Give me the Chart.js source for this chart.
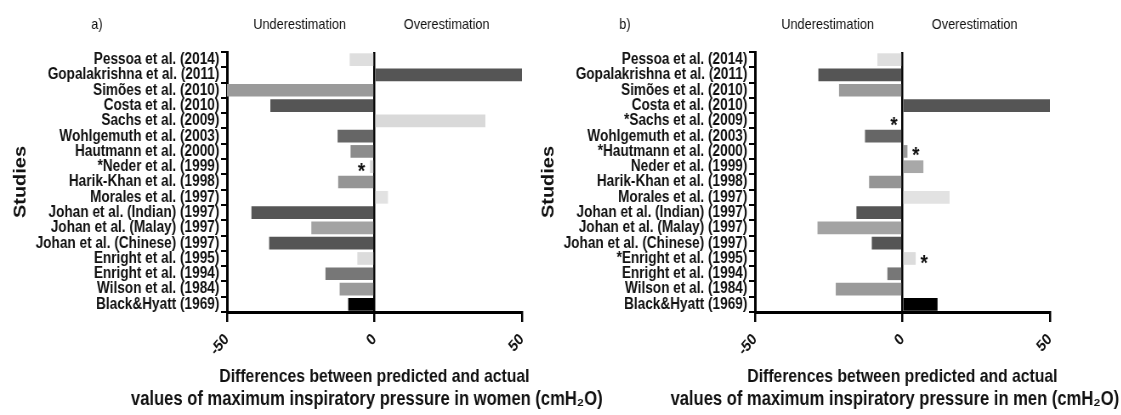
<!DOCTYPE html>
<html>
<head>
<meta charset="utf-8">
<script src="https://cdn.jsdelivr.net/npm/chart.js@4.4.1/dist/chart.umd.min.js"></script>
<style>
  body { margin: 0; background: #fff; }
  #wrap { position: relative; width: 1121px; height: 415px; overflow: hidden; }
  /* the source figure is squeezed sideways, so each panel is drawn wide and squeezed */
  canvas { position: absolute; top: 0; transform: scaleX(0.85); transform-origin: 0 0; }
  #women { left: 0; }
  #men { left: 528px; }
</style>
</head>
<body>
<div id="wrap">
  <canvas id="women" width="720" height="415"></canvas>
  <canvas id="men" width="720" height="415"></canvas>
</div>
<script>
const FONT = "'Liberation Sans', Arial, sans-serif";

const womenStudies = ['Pessoa et al. (2014)', 'Gopalakrishna et al. (2011)', 'Simões et al. (2010)', 'Costa et al. (2010)',
  'Sachs et al. (2009)', 'Wohlgemuth et al. (2003)', 'Hautmann et al. (2000)', '*Neder et al. (1999)',
  'Harik-Khan et al. (1998)', 'Morales et al. (1997)', 'Johan et al. (Indian) (1997)', 'Johan et al. (Malay) (1997)',
  'Johan et al. (Chinese) (1997)', 'Enright et al. (1995)', 'Enright et al. (1994)', 'Wilson et al. (1984)', 'Black&Hyatt (1969)'];
const menStudies = ['Pessoa et al. (2014)', 'Gopalakrishna et al. (2011)', 'Simões et al. (2010)', 'Costa et al. (2010)',
  '*Sachs et al. (2009)', 'Wohlgemuth et al. (2003)', '*Hautmann et al. (2000)', 'Neder et al. (1999)',
  'Harik-Khan et al. (1998)', 'Morales et al. (1997)', 'Johan et al. (Indian) (1997)', 'Johan et al. (Malay) (1997)',
  'Johan et al. (Chinese) (1997)', '*Enright et al. (1995)', 'Enright et al. (1994)', 'Wilson et al. (1984)', 'Black&Hyatt (1969)'];

const womenDiff = [-8.4, 50, -50, -35.3, 37.6, -12.5, -8.1, -1.5, -12.3, 4.6, -41.7, -21.4, -35.7, -5.8, -16.6, -11.8, -8.9];
const menDiff = [-8.5, -28.5, -21.5, 50, 0, -12.7, 1.7, 7.1, -11.3, 16, -15.6, -28.8, -10.4, 4.5, -5.1, -22.6, 11.9];

const womenColors = ['#dedede', '#555555', '#9a9a9a', '#555555', '#d9d9d9', '#666666', '#8c8c8c', '#d6d6d6', '#959595',
  '#e2e2e2', '#555555', '#a3a3a3', '#555555', '#dcdcdc', '#777777', '#9a9a9a', '#000000'];
const menColors = ['#dedede', '#555555', '#9a9a9a', '#555555', '#d9d9d9', '#666666', '#9a9a9a', '#a8a8a8', '#959595',
  '#e2e2e2', '#555555', '#a3a3a3', '#555555', '#dcdcdc', '#777777', '#9a9a9a', '#000000'];

// rows that get a star next to the bar
const womenStars = [7];
const menStars = [4, 6, 13];

const xTicks = [-50, 0, 50];

function panelPlugin(letter, who, stars) {
  return {
    id: 'panel',
    afterDraw(chart) {
      const ctx = chart.ctx;
      const xs = chart.scales.x;
      const zero = xs.getPixelForValue(0);
      ctx.save();
      ctx.fillStyle = '#111';
      ctx.textBaseline = 'middle';
      ctx.textAlign = 'center';
      ctx.font = '15px ' + FONT;
      ctx.fillText(letter, 114, 25);
      ctx.fillText('Underestimation', zero - 88, 25);
      ctx.fillText('Overestimation', zero + 85, 25);

      ctx.font = 'bold 18.5px ' + FONT;
      ctx.fillText('Differences between predicted and actual', zero, 377);
      ctx.font = 'bold 19.5px ' + FONT;
      ctx.fillText('values of maximum inspiratory pressure in ' + who + ' (cmH\u2082O)', zero - 9, 400);

      const meta = chart.getDatasetMeta(0);
      ctx.font = 'bold 22px ' + FONT;
      stars.forEach(i => {
        const v = chart.data.datasets[0].data[i];
        const end = xs.getPixelForValue(v);
        const x = v > 0 ? end + 10 : end - 10;
        ctx.fillText('*', x, meta.data[i].y + 5);
      });
      ctx.restore();
    }
  };
}

function makeChart(id, labels, values, colors, stars, letter, who) {
  new Chart(document.getElementById(id), {
    type: 'bar',
    data: {
      labels: labels,
      datasets: [{
        data: values,
        backgroundColor: colors,
        borderWidth: 0,
        barPercentage: 0.83,
        categoryPercentage: 1
      }]
    },
    options: {
      indexAxis: 'y',
      responsive: false,
      animation: false,
      layout: { padding: { top: 52, right: 106, left: 0, bottom: 0 } },
      plugins: { legend: { display: false }, tooltip: { enabled: false } },
      scales: {
        x: {
          min: -50,
          max: 50,
          afterBuildTicks: scale => { scale.ticks = xTicks.map(v => ({ value: v })); },
          afterFit: scale => { scale.height = 103; },
          ticks: {
            autoSkip: false,
            minRotation: 45,
            maxRotation: 45,
            color: '#111',
            padding: 8,
            font: { family: FONT, size: 16, weight: 'bold' }
          },
          grid: {
            drawOnChartArea: true,
            color: c => (c.tick && c.tick.value === 0) ? '#000' : 'rgba(0,0,0,0)',
            tickColor: '#000',
            lineWidth: 2.5,
            tickLength: 10
          },
          border: { display: true, color: '#000', width: 3 }
        },
        y: {
          afterFit: scale => { scale.width = 267; },
          ticks: {
            autoSkip: false,
            color: '#111',
            padding: 2,
            font: { family: FONT, size: 16, weight: 'bold', lineHeight: 1 }
          },
          grid: {
            drawOnChartArea: false,
            tickColor: '#000',
            lineWidth: 2,
            tickLength: 7
          },
          border: { display: true, color: '#000', width: 3 },
          title: {
            display: true,
            text: 'Studies',
            color: '#111',
            font: { family: FONT, size: 20, weight: 'bold' },
            padding: { top: 12, bottom: 0 }
          }
        }
      }
    },
    plugins: [panelPlugin(letter, who, stars)]
  });
}

makeChart('women', womenStudies, womenDiff, womenColors, womenStars, 'a)', 'women');
makeChart('men', menStudies, menDiff, menColors, menStars, 'b)', 'men');
</script>
</body>
</html>
